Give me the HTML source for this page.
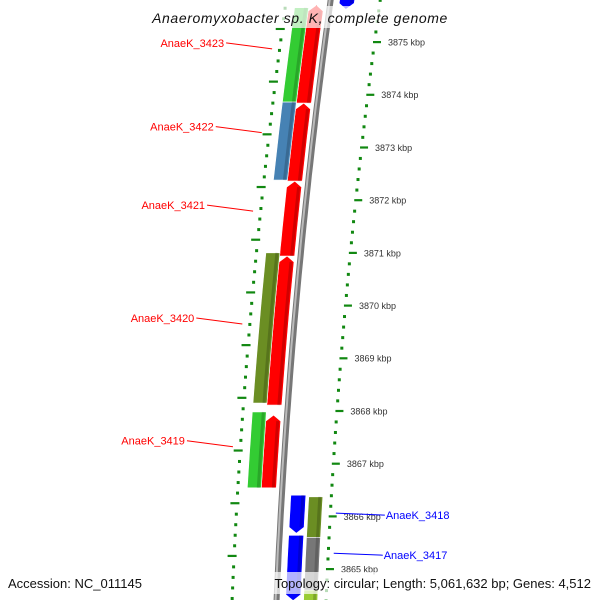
<!DOCTYPE html>
<html><head><meta charset="utf-8"><style>
html,body{margin:0;padding:0;background:#fff}
svg{display:block;font-family:"Liberation Sans","DejaVu Sans",sans-serif}
</style></head><body>
<svg id="map" width="600" height="600" viewBox="0 0 600 600" xmlns="http://www.w3.org/2000/svg">
<g id="ticks"></g>
<g id="backbone"></g>
<g id="features"></g>
<g id="labels"></g>
<rect x="140" y="6" width="320" height="22" fill="#fff" opacity="0.7"/>
<text x="300" y="23" text-anchor="middle" font-size="14" font-style="italic" letter-spacing="0.6" fill="#111">Anaeromyxobacter sp. K, complete genome</text>
<rect x="258" y="572" width="336" height="22" fill="#fff" opacity="0.7"/>
<text x="8" y="588" font-size="13" fill="#111">Accession: NC_011145</text>
<text x="591" y="588" text-anchor="end" font-size="13" fill="#111">Topology: circular; Length: 5,061,632 bp; Genes: 4,512</text>
</svg>
<script>
// data (kbp)
const featStart = [3875.70,3873.84,3872.36,3870.94,3867.92, 3875.65,3873.86,3871.00,3867.98, 3875.85,3866.40,3865.64, 3866.37,3865.60,3864.60];
const featEnd   = [3873.84,3872.36,3870.94,3868.11,3866.54, 3873.86,3872.38,3868.15,3866.54, 3875.62,3865.68,3864.40, 3865.60,3864.40,3864.40];
const featTrack = [0,0,0,0,0, 1,1,1,1, 2,2,2, 3,3,3];
const featStrand= [1,1,1,1,1, 0,0,0,0, -1,-1,-1, 0,0,0];
const featColor = ["#ff0000","#ff0000","#ff0000","#ff0000","#ff0000","#33cc33","#4682b4","#6b8e23","#33cc33","#0000ff","#0000ff","#0000ff","#6b8e23","#777777","#99cc33"];
const tickKbp = [3876,3875,3874,3873,3872,3871,3870,3869,3868,3867,3866,3865,3864];
const tickLabels = ["3876 kbp","3875 kbp","3874 kbp","3873 kbp","3872 kbp","3871 kbp","3870 kbp","3869 kbp","3868 kbp","3867 kbp","3866 kbp","3865 kbp","3864 kbp"];
const geneNames = ["AnaeK_3423","AnaeK_3422","AnaeK_3421","AnaeK_3420","AnaeK_3419","AnaeK_3418","AnaeK_3417"];
const geneKbp = [3874.87,3873.28,3871.79,3869.65,3867.32,3866.06,3865.30];
const geneSide = [-1,-1,-1,-1,-1,1,1];

const NS="http://www.w3.org/2000/svg";
function yOf(k){return 42+(3875-k)*52.7;}
function cx(y){const d=y-42;return 325-0.1313*d+0.0000798*d*d;}
const trackOff=[[-21,-6],[-35,-21],[9,24],[27,41]];
function mk(tag,attrs,parent){const e=document.createElementNS(NS,tag);for(const k in attrs)e.setAttribute(k,attrs[k]);parent.appendChild(e);return e;}

// ticks
const tg=document.getElementById('ticks');
for(let k=3876;k>=3864;k=Math.round((k-0.2)*10)/10){
  const y=yOf(k);if(y<-5||y>605)continue;
  const major=Math.abs(k-Math.round(k))<0.01;
  const x=cx(y)+48;
  const r=mk('rect',{x:x,y:y-1,width:major?8:3,height:major?2.2:3,fill:'#118811'},tg);
  
  
}
for(let k=3876.25;k>=3864;k=Math.round((k-0.2)*100)/100){
  const y=yOf(k);if(y<-5||y>605)continue;
  const major=Math.abs((k-0.25)-Math.round(k-0.25))<0.01;
  const x=cx(y)-45;
  const r=mk('rect',{x:major?x-6:x-1,y:y-1,width:major?9:3,height:major?2.2:3,fill:'#118811'},tg);
  
  
}
tickKbp.forEach((k,i)=>{
  const y=yOf(k);if(y<10||y>590)return;
  const t=mk('text',{x:cx(y)+63,y:y+3.5,'font-size':9,fill:'#333'},tg);
  t.textContent=tickLabels[i];
  
  
});

// backbone
const bg=document.getElementById('backbone');
let pts=[];for(let y=-5;y<=605;y+=10)pts.push((cx(y)).toFixed(1)+','+y);
const b1=mk('polyline',{points:pts.join(' '),fill:'none',stroke:'#777','stroke-width':6},bg);


const b2=mk('polyline',{points:pts.map(p=>{const [a,b]=p.split(',');return (parseFloat(a)-1)+','+b}).join(' '),fill:'none',stroke:'#bbb','stroke-width':2},bg);



// features
const fg=document.getElementById('features');
featStart.forEach((s,i)=>{
  const y1=yOf(s),y2=yOf(featEnd[i]);
  const [o1,o2]=trackOff[featTrack[i]];
  const st=featStrand[i];
  const top=st===1?y1+6:y1, bot=st===-1?y2-6:y2;
  const L=[],R=[];
  for(let t=0;t<=8;t++){const y=top+(bot-top)*t/8;L.push([cx(y)+o1,y]);R.push([cx(y)+o2,y]);}
  let poly=[];
  if(st===1){poly.push([cx(y1)+(o1+o2)/2,y1]);}
  poly=poly.concat(R);
  if(st===-1){poly.push([cx(y2)+(o1+o2)/2,y2]);}
  poly=poly.concat(L.reverse());
  const p=mk('polygon',{points:poly.map(q=>q[0].toFixed(1)+','+q[1].toFixed(1)).join(' '),fill:featColor[i],stroke:'#fff','stroke-width':0.6},fg);
  
  
  // shading stripe
  const sh=[];for(let t=0;t<=8;t++){const y=top+(bot-top)*t/8;sh.push([cx(y)+o2-3,y]);}
  const s2=mk('polyline',{points:sh.map(q=>q[0].toFixed(1)+','+q[1].toFixed(1)).join(' '),fill:'none',stroke:'#000','stroke-opacity':0.18,'stroke-width':3},fg);
  
  
});

// labels
const lg=document.getElementById('labels');
geneNames.forEach((n,i)=>{
  const y=yOf(geneKbp[i]);
  const col=geneSide[i]<0?'#ff0000':'#0000ff';
  let lx,tx,ty,anchor;
  if(geneSide[i]<0){lx=cx(y)-52;tx=lx-48;ty=y-6;anchor='end';}
  else{lx=cx(y)+55;tx=lx+50;ty=y+2;anchor='start';}
  const l=mk('line',{x1:lx,y1:y,x2:tx+(geneSide[i]<0?2:-1),y2:ty,stroke:col,'stroke-width':1},lg);
  
  
  const t=mk('text',{x:tx,y:ty+4,'text-anchor':anchor,'font-size':11,fill:col},lg);
  t.textContent=n;
  
  
});
</script>
</body></html>
